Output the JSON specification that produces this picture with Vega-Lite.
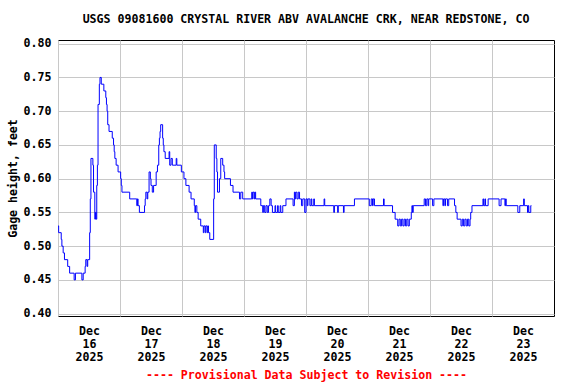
{
  "$schema": "https://vega.github.io/schema/vega-lite/v6.json",
  "width": 496,
  "height": 276,
  "autosize": {"type": "none"},
  "padding": {"left": 58, "top": 40, "right": 22, "bottom": 68},
  "background": "white",
  "title": {"text": "USGS 09081600 CRYSTAL RIVER ABV AVALANCHE CRK, NEAR REDSTONE, CO", "font": "DejaVu Sans Mono", "fontSize": 11.6, "fontWeight": "bold", "color": "black", "anchor": "middle", "offset": 12},
  "config": {"font": "DejaVu Sans Mono", "view": {"stroke": "black", "strokeWidth": 1}},
  "data": {
    "format": {"parse": {"t": "utc:'%Y-%m-%d %H:%M'"}},
    "values": [
      {"t":"2025-12-16 00:00","v":0.53},{"t":"2025-12-16 00:15","v":0.52},{"t":"2025-12-16 01:15","v":0.51},{"t":"2025-12-16 01:30","v":0.50},
      {"t":"2025-12-16 02:00","v":0.49},{"t":"2025-12-16 02:30","v":0.48},{"t":"2025-12-16 03:45","v":0.47},{"t":"2025-12-16 04:30","v":0.46},
      {"t":"2025-12-16 06:15","v":0.45},{"t":"2025-12-16 06:45","v":0.46},{"t":"2025-12-16 09:15","v":0.45},{"t":"2025-12-16 09:45","v":0.46},
      {"t":"2025-12-16 10:30","v":0.47},{"t":"2025-12-16 10:45","v":0.48},{"t":"2025-12-16 11:15","v":0.47},{"t":"2025-12-16 11:30","v":0.48},
      {"t":"2025-12-16 12:15","v":0.52},{"t":"2025-12-16 12:30","v":0.57},{"t":"2025-12-16 12:45","v":0.63},{"t":"2025-12-16 13:30","v":0.62},
      {"t":"2025-12-16 13:45","v":0.58},{"t":"2025-12-16 14:15","v":0.54},{"t":"2025-12-16 14:30","v":0.55},{"t":"2025-12-16 14:45","v":0.54},
      {"t":"2025-12-16 15:00","v":0.59},{"t":"2025-12-16 15:15","v":0.62},{"t":"2025-12-16 15:30","v":0.71},{"t":"2025-12-16 16:00","v":0.74},
      {"t":"2025-12-16 16:15","v":0.75},{"t":"2025-12-16 16:45","v":0.74},{"t":"2025-12-16 17:45","v":0.73},{"t":"2025-12-16 18:30","v":0.72},
      {"t":"2025-12-16 18:45","v":0.71},{"t":"2025-12-16 19:00","v":0.70},{"t":"2025-12-16 19:15","v":0.68},{"t":"2025-12-16 19:45","v":0.67},
      {"t":"2025-12-16 21:00","v":0.66},{"t":"2025-12-16 21:30","v":0.65},{"t":"2025-12-16 21:45","v":0.64},{"t":"2025-12-16 22:00","v":0.63},
      {"t":"2025-12-16 22:30","v":0.62},{"t":"2025-12-16 23:15","v":0.61},
      {"t":"2025-12-17 00:15","v":0.60},{"t":"2025-12-17 00:30","v":0.59},{"t":"2025-12-17 00:45","v":0.58},{"t":"2025-12-17 03:45","v":0.57},
      {"t":"2025-12-17 06:30","v":0.56},{"t":"2025-12-17 06:45","v":0.57},{"t":"2025-12-17 07:00","v":0.56},{"t":"2025-12-17 07:30","v":0.55},
      {"t":"2025-12-17 09:30","v":0.56},{"t":"2025-12-17 09:45","v":0.57},{"t":"2025-12-17 10:00","v":0.58},{"t":"2025-12-17 10:30","v":0.57},
      {"t":"2025-12-17 10:45","v":0.58},{"t":"2025-12-17 11:15","v":0.61},{"t":"2025-12-17 11:45","v":0.60},{"t":"2025-12-17 12:00","v":0.59},
      {"t":"2025-12-17 12:30","v":0.58},{"t":"2025-12-17 13:00","v":0.59},{"t":"2025-12-17 14:00","v":0.61},{"t":"2025-12-17 14:30","v":0.62},
      {"t":"2025-12-17 15:00","v":0.65},{"t":"2025-12-17 15:15","v":0.66},{"t":"2025-12-17 15:30","v":0.67},{"t":"2025-12-17 15:45","v":0.68},
      {"t":"2025-12-17 16:30","v":0.66},{"t":"2025-12-17 16:45","v":0.65},{"t":"2025-12-17 17:00","v":0.64},{"t":"2025-12-17 17:30","v":0.63},
      {"t":"2025-12-17 19:00","v":0.64},{"t":"2025-12-17 19:15","v":0.62},{"t":"2025-12-17 19:45","v":0.63},{"t":"2025-12-17 20:15","v":0.62},
      {"t":"2025-12-17 21:45","v":0.63},{"t":"2025-12-17 22:00","v":0.62},{"t":"2025-12-17 23:45","v":0.61},
      {"t":"2025-12-18 00:45","v":0.60},{"t":"2025-12-18 01:30","v":0.59},{"t":"2025-12-18 02:45","v":0.58},{"t":"2025-12-18 03:30","v":0.57},
      {"t":"2025-12-18 04:45","v":0.56},{"t":"2025-12-18 05:00","v":0.55},{"t":"2025-12-18 05:15","v":0.56},{"t":"2025-12-18 05:45","v":0.55},
      {"t":"2025-12-18 06:15","v":0.54},{"t":"2025-12-18 07:15","v":0.53},{"t":"2025-12-18 08:15","v":0.52},{"t":"2025-12-18 08:30","v":0.53},
      {"t":"2025-12-18 09:00","v":0.52},{"t":"2025-12-18 09:15","v":0.53},{"t":"2025-12-18 09:45","v":0.52},{"t":"2025-12-18 10:00","v":0.53},
      {"t":"2025-12-18 10:15","v":0.52},{"t":"2025-12-18 10:45","v":0.51},{"t":"2025-12-18 12:15","v":0.57},{"t":"2025-12-18 12:30","v":0.65},
      {"t":"2025-12-18 13:15","v":0.63},{"t":"2025-12-18 13:30","v":0.61},{"t":"2025-12-18 13:45","v":0.58},{"t":"2025-12-18 14:30","v":0.60},
      {"t":"2025-12-18 15:00","v":0.63},{"t":"2025-12-18 15:45","v":0.62},{"t":"2025-12-18 16:15","v":0.61},{"t":"2025-12-18 16:30","v":0.60},
      {"t":"2025-12-18 18:45","v":0.59},{"t":"2025-12-18 19:45","v":0.58},{"t":"2025-12-18 22:15","v":0.57},{"t":"2025-12-18 22:45","v":0.58},
      {"t":"2025-12-18 23:30","v":0.57},
      {"t":"2025-12-19 03:00","v":0.58},{"t":"2025-12-19 03:15","v":0.57},{"t":"2025-12-19 03:30","v":0.58},{"t":"2025-12-19 04:00","v":0.57},
      {"t":"2025-12-19 04:15","v":0.58},{"t":"2025-12-19 04:30","v":0.57},{"t":"2025-12-19 06:30","v":0.56},{"t":"2025-12-19 07:15","v":0.55},
      {"t":"2025-12-19 07:30","v":0.56},{"t":"2025-12-19 08:00","v":0.55},{"t":"2025-12-19 08:30","v":0.56},{"t":"2025-12-19 09:00","v":0.55},
      {"t":"2025-12-19 09:30","v":0.56},{"t":"2025-12-19 10:00","v":0.57},{"t":"2025-12-19 10:30","v":0.56},{"t":"2025-12-19 11:00","v":0.55},
      {"t":"2025-12-19 12:00","v":0.56},{"t":"2025-12-19 12:15","v":0.55},{"t":"2025-12-19 13:00","v":0.56},{"t":"2025-12-19 13:15","v":0.55},
      {"t":"2025-12-19 14:00","v":0.56},{"t":"2025-12-19 14:15","v":0.55},{"t":"2025-12-19 15:00","v":0.56},{"t":"2025-12-19 16:15","v":0.57},
      {"t":"2025-12-19 19:00","v":0.56},{"t":"2025-12-19 19:30","v":0.58},{"t":"2025-12-19 19:45","v":0.57},{"t":"2025-12-19 20:00","v":0.58},
      {"t":"2025-12-19 20:30","v":0.57},{"t":"2025-12-19 21:00","v":0.58},{"t":"2025-12-19 21:30","v":0.57},{"t":"2025-12-19 22:15","v":0.56},
      {"t":"2025-12-19 22:45","v":0.57},{"t":"2025-12-19 23:30","v":0.55},
      {"t":"2025-12-20 00:00","v":0.57},{"t":"2025-12-20 00:30","v":0.56},{"t":"2025-12-20 00:45","v":0.57},{"t":"2025-12-20 01:30","v":0.56},
      {"t":"2025-12-20 02:00","v":0.57},{"t":"2025-12-20 02:15","v":0.56},{"t":"2025-12-20 03:00","v":0.57},{"t":"2025-12-20 03:15","v":0.56},
      {"t":"2025-12-20 07:00","v":0.57},{"t":"2025-12-20 07:15","v":0.56},{"t":"2025-12-20 10:45","v":0.55},{"t":"2025-12-20 11:00","v":0.56},
      {"t":"2025-12-20 12:15","v":0.55},{"t":"2025-12-20 12:30","v":0.56},{"t":"2025-12-20 14:30","v":0.55},{"t":"2025-12-20 14:45","v":0.56},
      {"t":"2025-12-20 18:45","v":0.57},
      {"t":"2025-12-21 00:30","v":0.56},{"t":"2025-12-21 01:15","v":0.57},{"t":"2025-12-21 01:45","v":0.56},{"t":"2025-12-21 02:00","v":0.57},
      {"t":"2025-12-21 02:30","v":0.56},{"t":"2025-12-21 06:00","v":0.57},{"t":"2025-12-21 06:15","v":0.56},{"t":"2025-12-21 09:30","v":0.55},
      {"t":"2025-12-21 10:30","v":0.54},{"t":"2025-12-21 11:30","v":0.53},{"t":"2025-12-21 12:00","v":0.54},{"t":"2025-12-21 12:30","v":0.53},
      {"t":"2025-12-21 13:00","v":0.54},{"t":"2025-12-21 13:30","v":0.53},{"t":"2025-12-21 14:00","v":0.54},{"t":"2025-12-21 14:30","v":0.53},
      {"t":"2025-12-21 15:00","v":0.54},{"t":"2025-12-21 15:30","v":0.53},{"t":"2025-12-21 16:00","v":0.54},{"t":"2025-12-21 16:45","v":0.55},
      {"t":"2025-12-21 17:00","v":0.56},{"t":"2025-12-21 17:15","v":0.55},{"t":"2025-12-21 17:30","v":0.56},{"t":"2025-12-21 21:45","v":0.57},
      {"t":"2025-12-21 22:15","v":0.56},{"t":"2025-12-21 22:45","v":0.57},{"t":"2025-12-21 23:15","v":0.56},{"t":"2025-12-21 23:30","v":0.57},
      {"t":"2025-12-22 01:00","v":0.56},{"t":"2025-12-22 01:30","v":0.57},{"t":"2025-12-22 05:00","v":0.56},{"t":"2025-12-22 05:15","v":0.57},
      {"t":"2025-12-22 05:45","v":0.56},{"t":"2025-12-22 06:00","v":0.57},{"t":"2025-12-22 06:45","v":0.56},{"t":"2025-12-22 07:15","v":0.57},
      {"t":"2025-12-22 09:30","v":0.56},{"t":"2025-12-22 10:00","v":0.55},{"t":"2025-12-22 10:30","v":0.54},{"t":"2025-12-22 12:00","v":0.53},
      {"t":"2025-12-22 12:30","v":0.54},{"t":"2025-12-22 13:00","v":0.53},{"t":"2025-12-22 13:30","v":0.54},{"t":"2025-12-22 14:00","v":0.53},
      {"t":"2025-12-22 14:30","v":0.54},{"t":"2025-12-22 15:00","v":0.53},{"t":"2025-12-22 15:30","v":0.54},{"t":"2025-12-22 15:45","v":0.55},
      {"t":"2025-12-22 16:15","v":0.56},{"t":"2025-12-22 20:30","v":0.57},{"t":"2025-12-22 20:45","v":0.56},{"t":"2025-12-22 21:15","v":0.57},
      {"t":"2025-12-22 21:30","v":0.56},{"t":"2025-12-22 22:30","v":0.57},
      {"t":"2025-12-23 02:45","v":0.56},{"t":"2025-12-23 03:30","v":0.57},{"t":"2025-12-23 05:00","v":0.56},{"t":"2025-12-23 05:15","v":0.57},
      {"t":"2025-12-23 05:30","v":0.56},{"t":"2025-12-23 10:00","v":0.55},{"t":"2025-12-23 10:45","v":0.56},{"t":"2025-12-23 12:15","v":0.57},
      {"t":"2025-12-23 12:30","v":0.56},{"t":"2025-12-23 13:45","v":0.55},{"t":"2025-12-23 14:00","v":0.56},{"t":"2025-12-23 14:15","v":0.55},
      {"t":"2025-12-23 15:00","v":0.56},{"t":"2025-12-23 15:15","v":0.56}
    ]
  },
  "mark": {"type": "line", "color": "#0000ff", "strokeWidth": 1, "interpolate": "step-after", "clip": true},
  "encoding": {
    "x": {
      "field": "t", "type": "temporal",
      "scale": {"type": "utc", "domain": [{"year": 2025, "month": 12, "date": 16, "utc": true}, {"year": 2025, "month": 12, "date": 24, "utc": true}], "nice": false},
      "axis": {
        "title": "---- Provisional Data Subject to Revision ----",
        "titleColor": "#ff0000", "titleFont": "DejaVu Sans Mono", "titleFontSize": 11.6, "titleFontWeight": "bold", "titlePadding": 7,
        "values": [
          {"year": 2025, "month": 12, "date": 16, "utc": true}, {"year": 2025, "month": 12, "date": 17, "utc": true},
          {"year": 2025, "month": 12, "date": 18, "utc": true}, {"year": 2025, "month": 12, "date": 19, "utc": true},
          {"year": 2025, "month": 12, "date": 20, "utc": true}, {"year": 2025, "month": 12, "date": 21, "utc": true},
          {"year": 2025, "month": 12, "date": 22, "utc": true}, {"year": 2025, "month": 12, "date": 23, "utc": true}
        ],
        "labelExpr": "[utcFormat(datum.value, '%b'), utcFormat(datum.value, '%d'), utcFormat(datum.value, '%Y')]",
        "labelOffset": 31, "labelFont": "DejaVu Sans Mono", "labelFontSize": 11.6, "labelFontWeight": "bold", "labelColor": "black",
        "labelLineHeight": 13, "labelPadding": 9, "labelAngle": 0, "labelAlign": "center", "labelOverlap": false, "labelFlush": false,
        "ticks": false, "domain": false, "grid": true, "gridColor": "#c8c8c8", "gridWidth": 1
      }
    },
    "y": {
      "field": "v", "type": "quantitative",
      "scale": {"domain": [0.3965, 0.8055], "nice": false, "zero": false},
      "axis": {
        "title": "Gage height, feet", "titleFont": "DejaVu Sans Mono", "titleFontSize": 11.6, "titleFontWeight": "bold", "titleColor": "black", "titlePadding": 5,
        "values": [0.40, 0.45, 0.50, 0.55, 0.60, 0.65, 0.70, 0.75, 0.80], "format": ".2f",
        "labelFont": "DejaVu Sans Mono", "labelFontSize": 11.6, "labelFontWeight": "bold", "labelColor": "black", "labelPadding": 7,
        "ticks": false, "domain": false, "grid": true, "gridColor": "#c8c8c8", "gridWidth": 1
      }
    }
  }
}
